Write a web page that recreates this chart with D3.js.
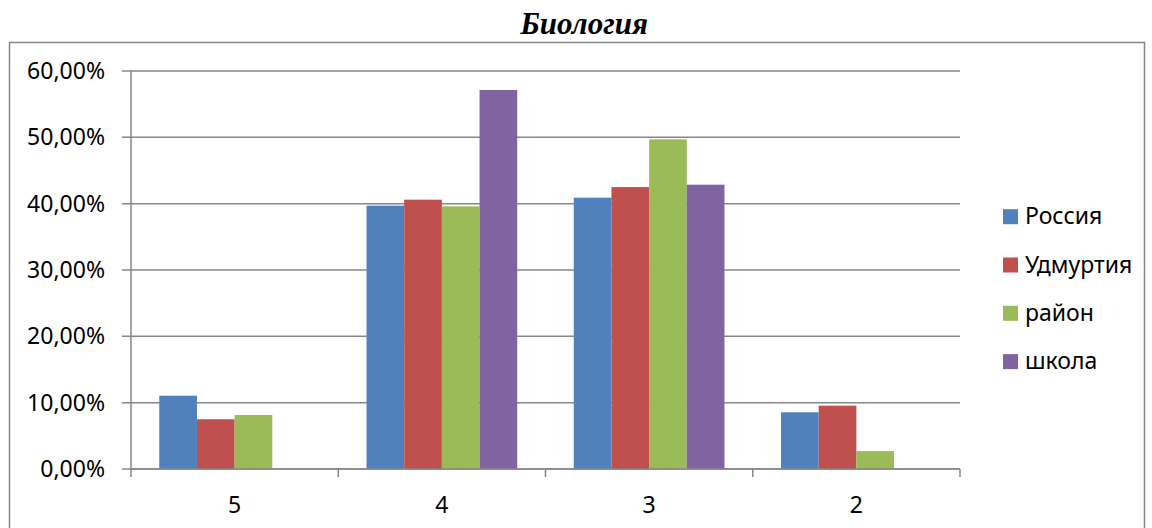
<!DOCTYPE html>
<html><head><meta charset="utf-8">
<script src="https://cdn.jsdelivr.net/npm/d3@7/dist/d3.min.js"></script>
<style>html,body{margin:0;padding:0;background:#fff;}svg{display:block;}</style>
</head><body>
<svg id="c" width="1152" height="528"></svg>
<script>
const title = "Биология";
const categories = ["5", "4", "3", "2"];
const seriesNames = ["Россия", "Удмуртия", "район", "школа"];
const seriesColors = ["#4F81BD", "#C0504D", "#9BBB59", "#8064A2"];
const russia   = [11.05, 39.7, 40.9, 8.55];
const udmurtia = [7.5, 40.6, 42.5, 9.55];
const rayon    = [8.14, 39.6, 49.7, 2.7];
const school   = [0, 57.14, 42.86, 0];
const yTicks = [0, 10, 20, 30, 40, 50, 60];

const seriesValues = [russia, udmurtia, rayon, school];
const svg = d3.select("#c");
const font = "'Noto Sans', sans-serif";
const grid = "#878787";

// outer border
svg.append("rect").attr("x", 9.5).attr("y", 42.5).attr("width", 1135).attr("height", 500)
  .attr("fill", "none").attr("stroke", grid).attr("stroke-width", 1.5);

svg.append("text").attr("x", 584).attr("y", 34).attr("text-anchor", "middle")
  .attr("font-family", "'Liberation Serif', serif").attr("font-weight", "bold")
  .attr("font-style", "italic").attr("font-size", 31).attr("fill", "#000").text(title);

const pLeft = 131, pRight = 960, pTop = 71, pBottom = 469;
const y = d3.scaleLinear().domain([0, 60]).range([pBottom, pTop]);
const x0 = d3.scaleBand().domain(categories).range([pLeft, pRight]).padding(0);
const bw = x0.bandwidth();
const x1 = d3.scaleBand().domain(seriesNames).range([bw * 0.75 / 5.5, bw * 4.75 / 5.5]).padding(0);

// gridlines
svg.append("g").selectAll("line").data(yTicks).join("line")
  .attr("x1", pLeft - 9).attr("x2", pRight).attr("y1", d => y(d)).attr("y2", d => y(d))
  .attr("stroke", grid).attr("stroke-width", 1.5);

// y labels
svg.append("g").selectAll("text").data(yTicks).join("text")
  .attr("x", 105).attr("y", d => y(d) + 8).attr("text-anchor", "end")
  .attr("font-family", font).attr("font-size", 23).attr("fill", "#000")
  .text(d => d3.format(".2f")(d).replace(".", ",") + "%");

// bars
const data = [];
categories.forEach((c, i) => seriesNames.forEach((s, j) => data.push({c, s, v: seriesValues[j][i], color: seriesColors[j]})));
svg.append("g").selectAll("rect").data(data.filter(d => d.v > 0)).join("rect")
  .attr("x", d => x0(d.c) + x1(d.s)).attr("width", x1.bandwidth())
  .attr("y", d => y(d.v)).attr("height", d => y(0) - y(d.v))
  .attr("fill", d => d.color);

// y axis line
svg.append("line").attr("x1", pLeft).attr("x2", pLeft).attr("y1", pTop).attr("y2", pBottom)
  .attr("stroke", grid).attr("stroke-width", 1.5);
// x axis
svg.append("line").attr("x1", pLeft).attr("x2", pRight).attr("y1", pBottom).attr("y2", pBottom)
  .attr("stroke", grid).attr("stroke-width", 1.5);
const bounds = categories.map(c => x0(c)).concat([pRight]);
svg.append("g").selectAll("line").data(bounds).join("line")
  .attr("x1", d => d).attr("x2", d => d).attr("y1", pBottom).attr("y2", pBottom + 8)
  .attr("stroke", grid).attr("stroke-width", 1.5);
svg.append("g").selectAll("text").data(categories).join("text")
  .attr("x", d => x0(d) + bw / 2).attr("y", 513).attr("text-anchor", "middle")
  .attr("font-family", font).attr("font-size", 23).attr("fill", "#000").text(d => d);

// legend
const lg = svg.append("g").selectAll("g").data(seriesNames).join("g")
  .attr("transform", (d, i) => `translate(1003, ${216.7 + i * 48.3})`);
lg.append("rect").attr("x", 0).attr("y", -7.5).attr("width", 15).attr("height", 15)
  .attr("fill", (d, i) => seriesColors[i]);
lg.append("text").attr("x", 22).attr("y", 7.5).attr("font-family", font).attr("font-size", 23)
  .attr("fill", "#000").text(d => d);
</script>
</body></html>
